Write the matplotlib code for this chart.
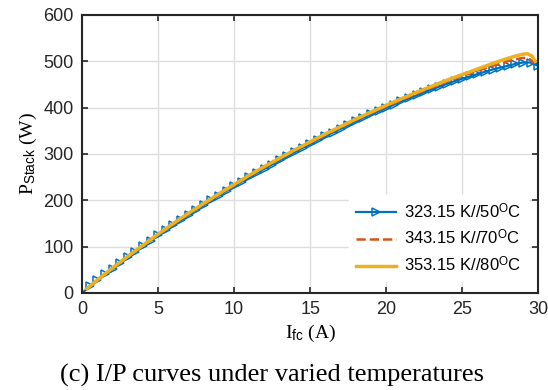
import matplotlib
matplotlib.use("Agg")
import matplotlib.pyplot as plt

plt.rcParams['mathtext.fontset'] = 'custom'
plt.rcParams['mathtext.rm'] = 'Liberation Serif'
plt.rcParams['mathtext.sf'] = 'Liberation Sans'
plt.rcParams['mathtext.it'] = 'Liberation Serif:italic'

# ---- data ----
I_323 = [0, 0.5, 1, 1.5, 2, 2.5, 3, 3.5, 4, 4.5, 5, 5.5, 6, 6.5, 7, 7.5, 8, 8.5, 9, 9.5,
         10, 10.5, 11, 11.5, 12, 12.5, 13, 13.5, 14, 14.5, 15, 15.5, 16, 16.5, 17, 17.5,
         18, 18.5, 19, 19.5, 20, 20.5, 21, 21.5, 22, 22.5, 23, 23.5, 24, 24.5, 25, 25.5,
         26, 26.5, 27, 27.5, 28, 28.5, 29, 29.5, 30]
P_323 = [0, 14, 27, 40, 52, 65, 77, 89, 101, 113, 124, 135, 146, 157, 168, 179, 189, 200,
         210, 220, 230, 240, 249, 259, 268, 277, 286, 295, 304, 313, 321, 330, 338, 346,
         354, 362, 370, 378, 385, 392, 399, 406, 413, 420, 426, 433, 439, 445, 451, 457,
         462, 467, 472, 477, 482, 486, 490, 494, 497, 497, 490]

I_343 = [0.3, 1, 2, 3, 4, 5, 6, 7, 8, 9, 10, 11, 12, 13, 14, 15, 16, 17, 18, 19, 20, 21,
         22, 23, 24, 25, 26, 27, 28, 28.5, 29, 29.3, 29.5, 29.7]
P_343 = [8, 27, 53, 78, 102, 125, 148, 170, 191, 212, 232, 252, 271, 289, 307, 324, 341,
         357, 373, 388, 402, 416, 430, 443, 456, 468, 479, 490, 500, 504, 507, 507, 503, 496]

I_353 = [0.3, 1, 2, 3, 4, 5, 6, 7, 8, 9, 10, 11, 12, 13, 14, 15, 16, 17, 18, 19, 20, 21,
         22, 23, 24, 25, 26, 27, 28, 28.5, 29, 29.3, 29.6, 29.8]
P_353 = [9, 28, 54, 79, 103, 127, 150, 172, 193, 214, 234, 254, 273, 291, 309, 326, 343,
         359, 375, 390, 405, 419, 433, 446, 459, 471, 483, 495, 506, 511, 515, 516, 511, 500]

labels = [r'323.15 K//50$^{\mathsf{O}}$C', r'343.15 K//70$^{\mathsf{O}}$C',
          r'353.15 K//80$^{\mathsf{O}}$C']
xticks = [0, 5, 10, 15, 20, 25, 30]
yticks = [0, 100, 200, 300, 400, 500, 600]

fig = plt.figure(figsize=(5.48, 3.90), dpi=100)
ax = fig.add_axes([0.150, 0.249, 0.832, 0.713])

ax.plot(I_323, P_323, color='#0072BD', lw=1.6, marker='>', markersize=6,
        markerfacecolor='none', markeredgewidth=1.1, label=labels[0], zorder=2)
ax.plot(I_343, P_343, color='#D95319', lw=1.8, ls='--', label=labels[1], zorder=3)
ax.plot(I_353, P_353, color='#EDB120', lw=2.5, label=labels[2], zorder=4)

ax.set_xlim(0, 30)
ax.set_ylim(0, 600)
ax.set_xticks(xticks)
ax.set_yticks(yticks)
ax.grid(True, color='#dedede', lw=1.0)
ax.set_axisbelow(True)
ax.tick_params(direction='in', length=4, width=1.2, labelsize=13, colors='#262626',
               pad=6, top=True, right=True)
for lab in ax.get_xticklabels() + ax.get_yticklabels():
    lab.set_family('Liberation Sans')
for s in ax.spines.values():
    s.set_linewidth(1.5)
    s.set_color('#262626')

ax.set_xlabel(r'I$_{\mathsf{fc}}$ (A)', family='Liberation Serif', fontsize=14,
              labelpad=3)
ax.set_ylabel(r'P$_{\mathsf{Stack}}$ (W)', family='Liberation Serif', fontsize=14,
              labelpad=3)

leg = ax.legend(loc='lower right', bbox_to_anchor=(0.985, 0.03), frameon=True,
                prop={'family': 'Liberation Sans', 'size': 12}, handlelength=2.4,
                handletextpad=0.5, labelspacing=0.45, borderaxespad=0.2,
                fancybox=False)
leg.get_frame().set_edgecolor('white')
leg.get_frame().set_facecolor('white')
leg.get_frame().set_alpha(1.0)

fig.text(0.497, 0.038, '(c) I/P curves under varied temperatures',
         family='Liberation Serif', fontsize=19, ha='center', va='center')

fig.savefig('out.png', dpi=100)
